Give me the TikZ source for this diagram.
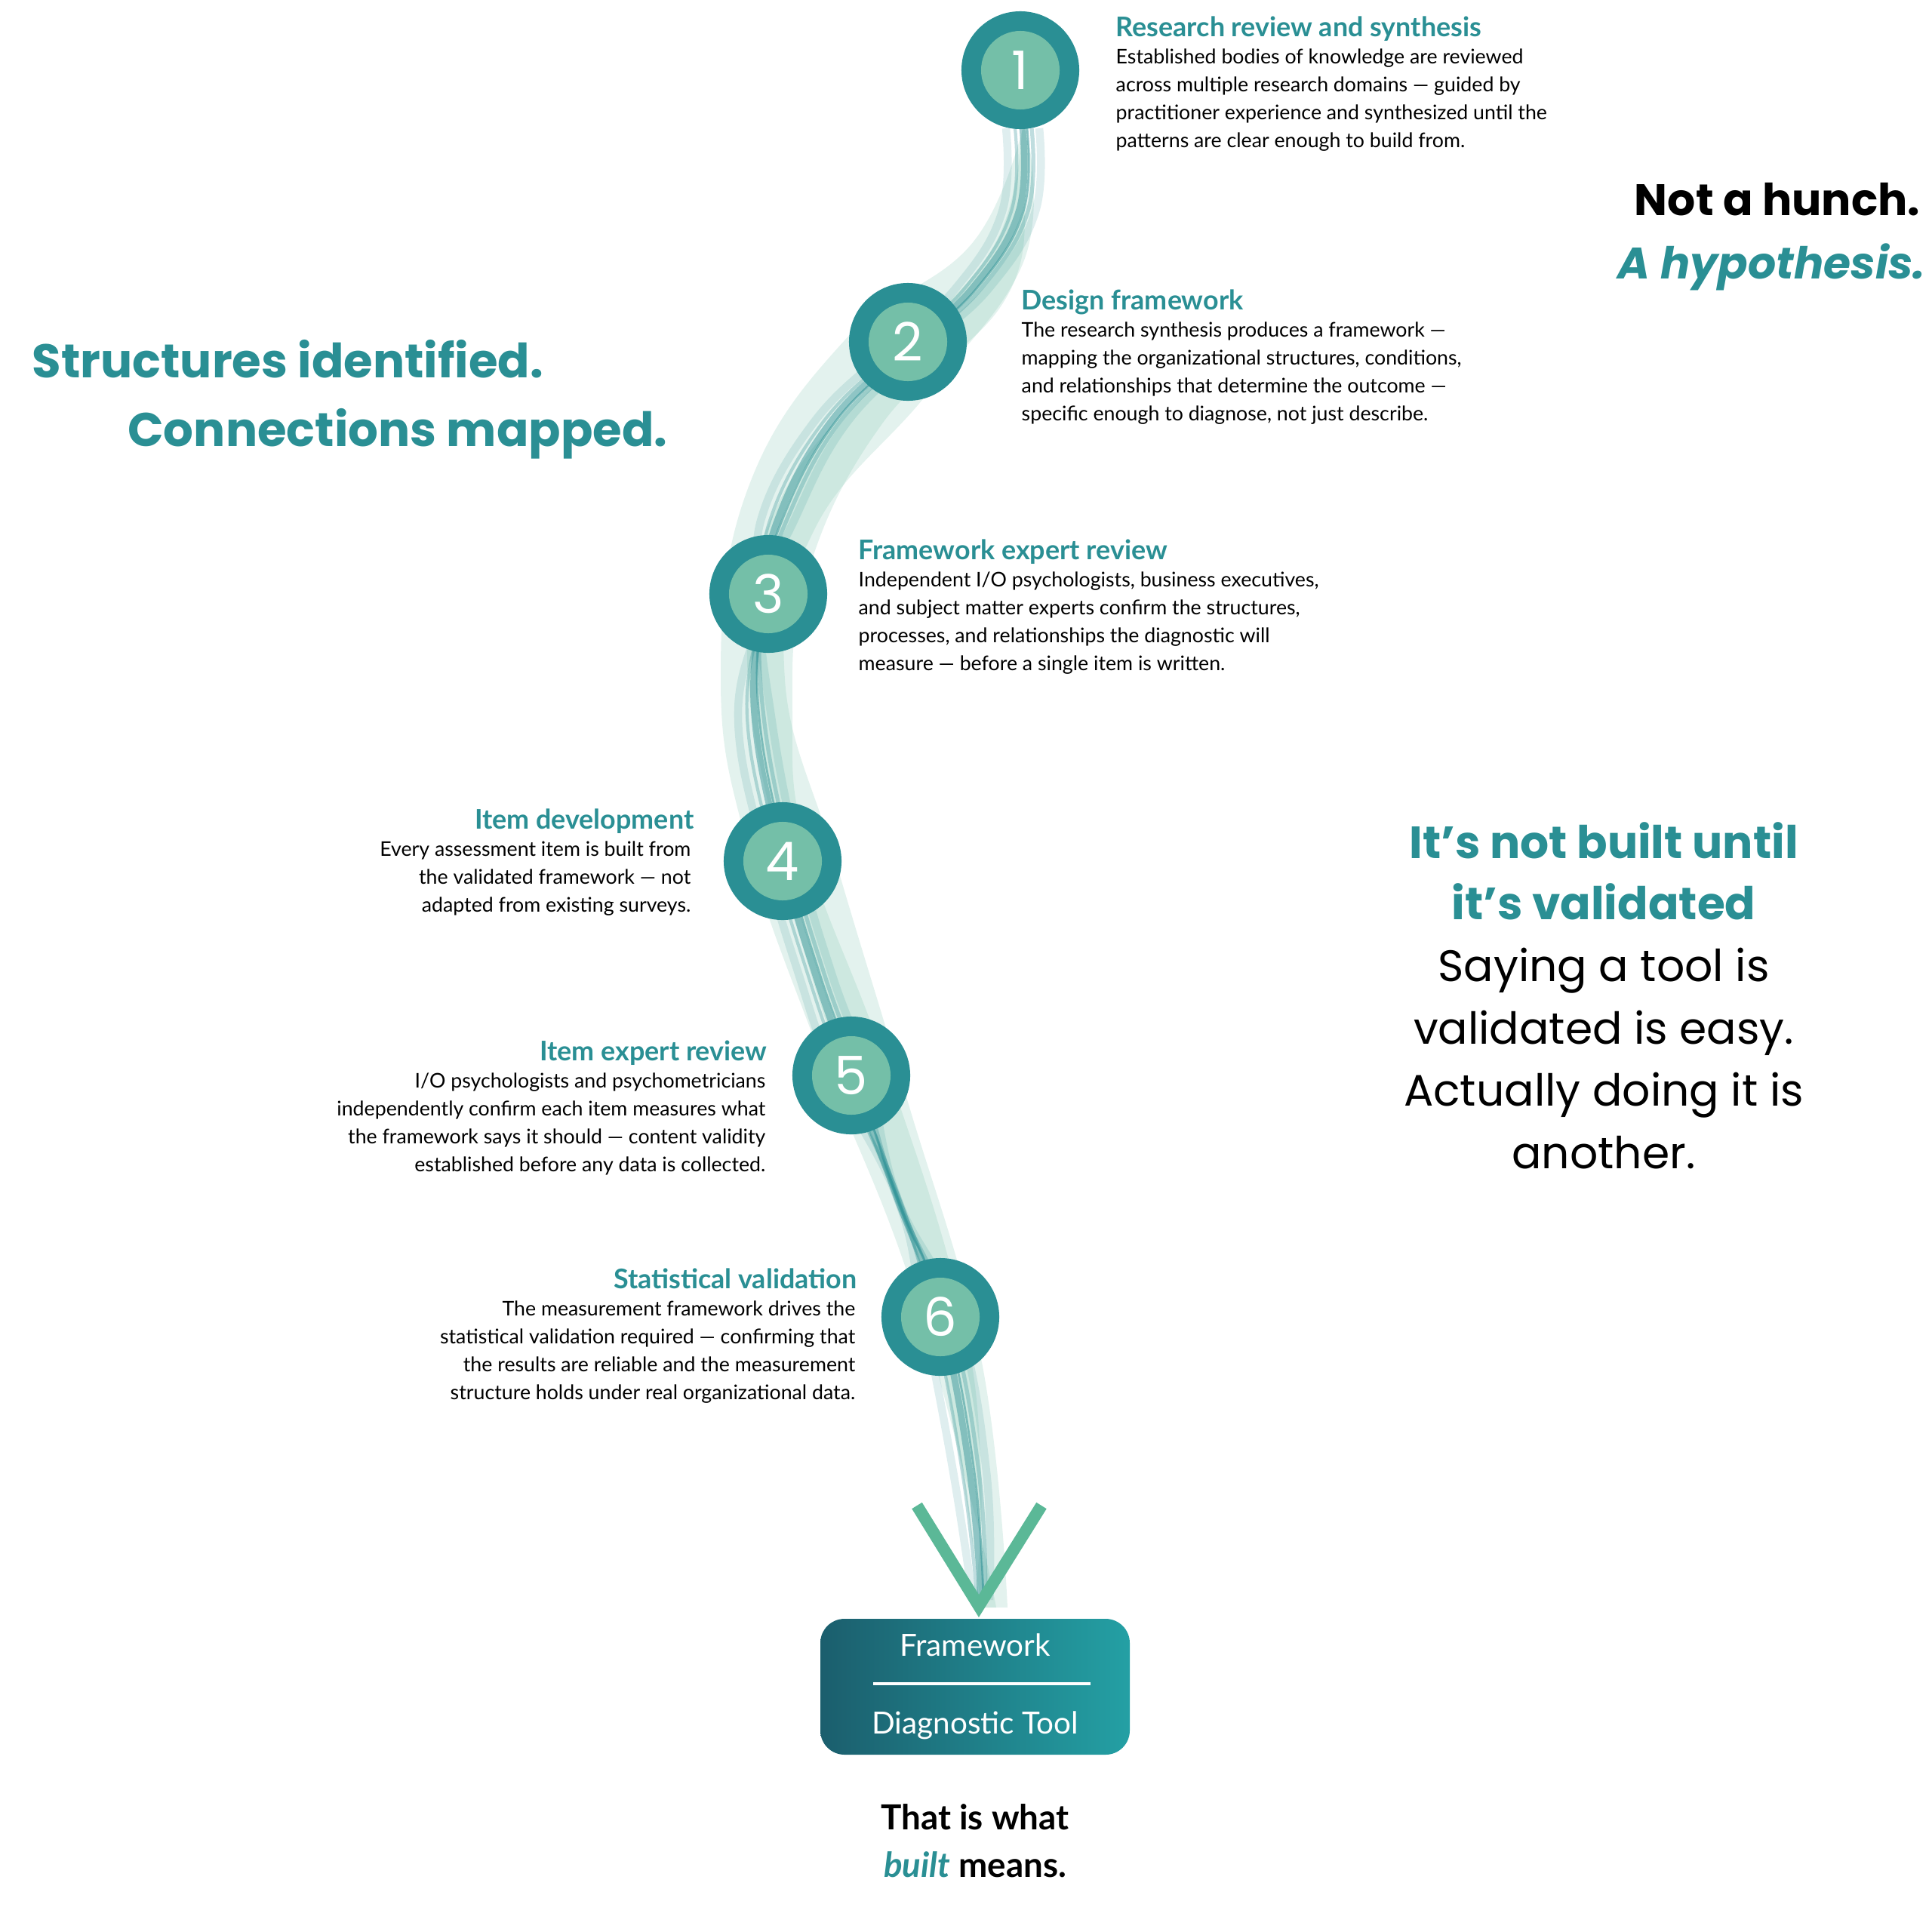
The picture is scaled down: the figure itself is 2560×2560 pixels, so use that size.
\documentclass[tikz,border=0pt]{standalone}
\usepackage{fontspec}
\setmainfont{Lato}
\newfontfamily\head{Poppins}
\usetikzlibrary{shadings}
\definecolor{teal1}{HTML}{2A8F94}
\definecolor{teall}{HTML}{74BFA8}
\definecolor{dteal}{HTML}{1B5E6D}
\definecolor{chev}{HTML}{5BB897}
\begin{document}
\begin{tikzpicture}[x=0.01cm,y=-0.01cm,
  outer/.style={circle,fill=teal1,minimum size=1.56cm,inner sep=0},
  inner/.style={circle,fill=teall,minimum size=1.04cm,inner sep=0,text=white,font=\head\fontsize{20}{20}\selectfont},
  ttl/.style={font=\bfseries\fontsize{10.2}{12}\selectfont,text=teal1,inner sep=0},
  body/.style={font=\fontsize{7.6}{10.5}\selectfont,inner sep=0,align=left},
  bodyr/.style={body,align=right}]
\useasboundingbox (0,0) rectangle (2560,2560);
% ribbons
\fill[teall,opacity=0.2] plot[smooth,tension=0.7] coordinates {(1360,150)(1290,320)(1120,450)(990,650)(955,900)(990,1120)(1080,1380)(1200,1680)(1290,2000)(1320,2130)}
 -- plot[smooth,tension=0.7] coordinates {(1290,2130)(1300,1950)(1270,1720)(1170,1400)(1070,1130)(1050,950)(1070,760)(1170,560)(1330,400)(1360,250)(1360,150)} -- cycle;
\fill[teall,opacity=0.2] plot[smooth,tension=0.7] coordinates {(1355,160)(1320,320)(1190,470)(1040,650)(990,850)(1030,1120)(1110,1400)(1230,1720)(1300,2130)}
 -- plot[smooth,tension=0.7] coordinates {(1335,2130)(1300,1800)(1200,1450)(1110,1150)(1040,900)(1080,700)(1230,520)(1355,350)(1365,200)} -- cycle;
\foreach \d/\w/\o in {0/2.5pt/0.45, 12/1.5pt/0.3, -10/1.2pt/0.3, 22/3pt/0.15, -22/3pt/0.15, 6/0.8pt/0.5}{
 \draw[teal1,line width=\w,opacity=\o] plot[smooth,tension=0.7] coordinates {(1355+\d,170)(1350+\d,280)(1290+\d,380)(1203+\d,460)(1100+\d,560)(1030+\d,690)(1010,800)(1000+\d,950)(1037+\d,1141)(1080+\d,1290)(1128+\d,1425)(1190,1590)(1246+\d,1745)(1285+\d,1950)(1300+0.5*\d,2120)};
}
% chevron
\draw[chev,line width=4.5pt,line join=miter] (1215,1995) -- (1297,2128) -- (1380,1995);
% circles
\foreach \n/\x/\y in {1/1352/93,2/1203/453,3/1018/787,4/1037/1141,5/1128/1425,6/1246/1745}{
 \node[outer] (o\n) at (\x,\y) {};
 \node[inner] (c\n) at (\x,\y) {\n};
}
% step texts
\node[ttl,anchor=base west] (t1) at (1478,48) {Research review and synthesis};
\node[body,anchor=north west] (b1) at (1478,64) {Established bodies of knowledge are reviewed\\across multiple research domains — guided by\\practitioner experience and synthesized until the\\patterns are clear enough to build from.};
\node[ttl,anchor=base west] (t2) at (1353,410) {Design framework};
\node[body,anchor=north west] (b2) at (1353,426) {The research synthesis produces a framework —\\mapping the organizational structures, conditions,\\and relationships that determine the outcome —\\specific enough to diagnose, not just describe.};
\node[ttl,anchor=base west] (t3) at (1137,741) {Framework expert review};
\node[body,anchor=north west] (b3) at (1137,757) {Independent I/O psychologists, business executives,\\and subject matter experts confirm the structures,\\processes, and relationships the diagnostic will\\measure — before a single item is written.};
\node[ttl,anchor=base east] (t4) at (920,1098) {Item development};
\node[bodyr,anchor=north east] (b4) at (916,1114) {Every assessment item is built from\\the validated framework — not\\adapted from existing surveys.};
\node[ttl,anchor=base east] (t5) at (1017,1405) {Item expert review};
\node[bodyr,anchor=north east] (b5) at (1015,1421) {I/O psychologists and psychometricians\\independently confirm each item measures what\\the framework says it should — content validity\\established before any data is collected.};
\node[ttl,anchor=base east] (t6) at (1136,1707) {Statistical validation};
\node[bodyr,anchor=north east] (b6) at (1134,1723) {The measurement framework drives the\\statistical validation required — confirming that\\the results are reliable and the measurement\\structure holds under real organizational data.};
% side headings
\node[anchor=base east,inner sep=0,font=\head\bfseries\fontsize{16.6}{20}\selectfont] (h1) at (2545,285) {Not a hunch.};
\node[anchor=base east,inner sep=0,font=\head\bfseries\itshape\fontsize{16.6}{20}\selectfont,text=teal1] (h2) at (2552,369) {A hypothesis.};
\node[anchor=base west,inner sep=0,font=\head\bfseries\fontsize{17.8}{22}\selectfont,text=teal1] (s1) at (42,500) {Structures identified.};
\node[anchor=base east,inner sep=0,font=\head\bfseries\fontsize{17.8}{22}\selectfont,text=teal1] (s2) at (885,591) {Connections mapped.};
\node[anchor=base,inner sep=0,font=\head\bfseries\fontsize{17}{20}\selectfont,text=teal1] (r1) at (2125,1137) {It’s not built until};
\node[anchor=base,inner sep=0,font=\head\bfseries\fontsize{17}{20}\selectfont,text=teal1] (r2) at (2125,1218) {it’s validated};
\node[anchor=base,inner sep=0,font=\head\fontsize{16.6}{20}\selectfont] (r3) at (2125,1300) {Saying a tool is};
\node[anchor=base,inner sep=0,font=\head\fontsize{16.6}{20}\selectfont] (r4) at (2125,1383) {validated is easy.};
\node[anchor=base,inner sep=0,font=\head\fontsize{16.6}{20}\selectfont] (r5) at (2125,1465) {Actually doing it is};
\node[anchor=base,inner sep=0,font=\head\fontsize{16.6}{20}\selectfont] (r6) at (2125,1548) {another.};
% box
\shade[left color=dteal,right color=teal1!85!cyan,rounded corners=0.32cm] (1087,2145) rectangle (1497,2325);
\node[inner sep=0,anchor=base,text=white,font=\fontsize{11.5}{14}\selectfont] (f1) at (1292,2194) {Framework};
\coordinate (la) at (1157,2231); \coordinate (lb) at (1445,2231);
\draw[white,line width=1.2pt] (la) -- (lb);
\node[inner sep=0,anchor=base,text=white,font=\fontsize{11.5}{14}\selectfont] (f2) at (1292,2297) {Diagnostic Tool};
\node[inner sep=0,anchor=base,font=\bfseries\fontsize{13}{16}\selectfont] (e1) at (1292,2424) {That is what};
\node[inner sep=0,anchor=base,font=\bfseries\fontsize{13}{16}\selectfont] (e2) at (1292,2487) {\textcolor{teal1}{\itshape built} means.};
\end{tikzpicture}
\end{document}
